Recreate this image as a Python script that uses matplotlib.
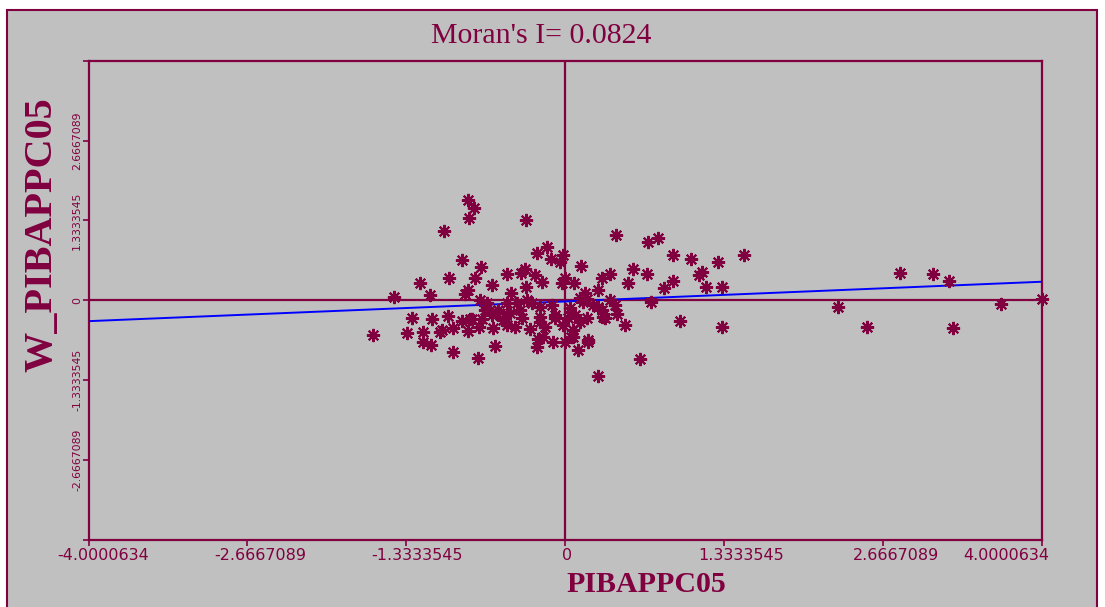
import matplotlib
matplotlib.use("Agg")
import matplotlib.pyplot as plt
import matplotlib.transforms as mtransforms
from matplotlib.patches import Rectangle

# ---- data ----
x_vals = [-0.818, -0.768, -0.810, -0.331, -1.019, -0.868, -0.709, -0.759, -0.977, -1.221,
          -1.137, -1.439, -0.818, -0.843, -0.617, -0.491, -0.373, -0.340, -0.256, -0.331,
          -0.239, -0.155, -0.122, -0.046, -0.021, 0.130, -0.457, -0.323, -0.717, -0.197,
          -0.029, -0.004, 0.071, 0.306, 0.373, 0.273, 0.164, 0.122, 0.147, 0.373,
          0.424, 0.692, 0.776, 0.902, 1.053, 1.279, 1.497, 1.145, 1.120, 1.179,
          1.313, 0.902, 0.826, 0.717, 0.961, 1.313, 0.625, 0.273, 0.566, 0.684,
          0.524, 0.432, 0.499, 0.315, 0.189, 0.105, 0.063, -0.004, 0.231, 0.306,
          0.415, -0.214, -0.113, 0.038, 0.080, 0.021, 0.122, 0.180, 0.331, -0.214,
          -0.172, -0.088, -0.021, 0.063, -0.189, -0.105, 0.046, 0.189, -0.239, 0.180,
          0.273, -1.615, -1.288, -1.330, -1.195, -1.195, -1.128, -1.120, -1.053, -0.986,
          -0.944, -0.868, -0.801, -0.818, -0.944, -0.734, -0.726, -0.784, -0.675, -0.617,
          -0.566, -0.524, -0.608, -0.491, -0.424, -0.382, -0.365, -0.298, -0.231, -0.591,
          -0.659, -0.491, -0.407, -0.659, -0.575, -0.466, -0.281, -1.036, -0.508, -0.088,
          -0.214, -0.701, 2.806, 3.083, 3.217, 2.286, 2.529, 3.251, 3.654, 3.997]
wy_vals = [1.683, 1.550, 1.383, 1.350, 1.150, 0.667, 0.550, 0.367, 0.367, 0.283,
           0.083, 0.050, 0.167, 0.100, 0.250, 0.433, 0.450, 0.517, 0.417, 0.217,
           0.783, 0.883, 0.683, 0.633, 0.750, 0.567, 0.117, 0.000, 0.000, 0.300,
           0.283, 0.367, 0.283, 0.367, 0.433, 0.167, 0.117, 0.033, -0.033, 0.000,
           1.083, 0.967, 1.033, 0.750, 0.683, 0.633, 0.750, 0.467, 0.417, 0.217,
           0.217, 0.317, 0.200, -0.033, -0.350, -0.450, -0.983, -1.267, 0.517, 0.433,
           0.283, -0.233, -0.417, -0.283, -0.700, -0.833, -0.617, -0.700, -0.083, -0.167,
           -0.083, -0.117, -0.083, -0.133, -0.250, -0.300, -0.367, -0.300, -0.300, -0.367,
           -0.450, -0.300, -0.417, -0.500, -0.617, -0.700, -0.617, -0.667, -0.783, 0.017,
           -0.117, -0.583, -0.300, -0.550, -0.533, -0.700, -0.750, -0.317, -0.533, -0.267,
           -0.467, -0.350, -0.317, -0.517, -0.867, -0.967, -0.450, -0.317, -0.167, -0.250,
           -0.167, -0.333, -0.467, -0.417, -0.450, -0.167, -0.300, -0.483, -0.650, -0.767,
           -0.050, -0.050, -0.050, -0.133, -0.217, -0.217, -0.050, -0.500, -0.283, -0.250,
           -0.283, -0.317, 0.450, 0.433, 0.317, -0.117, -0.450, -0.467, -0.067, 0.017]

morans_i = 0.0824
intercept = -0.02
tick_vals = [-4.0000634, -2.6667089, -1.3333545, 0.0, 1.3333545, 2.6667089, 4.0000634]
x_tick_labels = ["-4.0000634", "-2.6667089", "-1.3333545", "0", "1.3333545", "2.6667089", "4.0000634"]
y_tick_labels = ["", "-2.6667089", "-1.3333545", "0", "1.3333545", "2.6667089", ""]
title_text = "Moran's I= 0.0824"
x_label = "PIBAPPC05"
y_label = "W_PIBAPPC05"

# ---- style ----
MAROON = "#800040"
GREY = "#C0C0C0"
W, H = 1105, 607
# horizontal shift (pixels) of each x tick label relative to its tick, as in the reference
x_label_shift_px = [15, 13, 11, 2, 17, 13, -36]

fig = plt.figure(figsize=(W / 100, H / 100), dpi=100, facecolor="white")

# outer grey panel (behind everything)
panel = Rectangle((7 / W, -0.05), (1097 - 7) / W, 1.05 - 10 / H,
                  transform=fig.transFigure, facecolor=GREY, edgecolor=MAROON,
                  linewidth=1.5, zorder=-10)
fig.patches.append(panel)

ax = fig.add_axes([88.5 / W, 1 - 539.5 / H, (1042 - 88.5) / W, (539.5 - 61) / H])
ax.set_zorder(1)
ax.set_facecolor(GREY)
lim = tick_vals[-1]
ax.set_xlim(-lim, lim)
ax.set_ylim(-lim, lim)

for s in ax.spines.values():
    s.set_color(MAROON)
    s.set_linewidth(1.6)

ax.axhline(0, color=MAROON, lw=1.6, zorder=2)
ax.axvline(0, color=MAROON, lw=1.6, zorder=2)

# regression line
ax.plot([-lim, lim], [morans_i * -lim + intercept, morans_i * lim + intercept],
        color="#0000FF", lw=1.4, zorder=3)

# points: 8-spoke asterisk with a filled centre
ax.plot(x_vals, wy_vals, linestyle="none", marker=(8, 2, 0), markersize=9.5,
        markeredgewidth=1.5, color=MAROON, zorder=4, clip_on=False)
ax.plot(x_vals, wy_vals, linestyle="none", marker="o", markersize=4.5,
        color=MAROON, markeredgewidth=0, zorder=5, clip_on=False)

ax.set_xticks(tick_vals)
ax.set_xticklabels([""] * len(tick_vals))
ax.set_yticks(tick_vals)
ax.set_yticklabels(y_tick_labels, rotation=90, va="center")
ax.tick_params(axis="x", direction="out", length=4, width=1.2, colors=MAROON)
ax.tick_params(axis="y", direction="out", length=4, width=1.2, colors=MAROON,
               labelsize=7.8, pad=0.5)
for lab in ax.get_yticklabels():
    lab.set_fontfamily("DejaVu Sans")

# x tick labels placed under their ticks (shifted as in the reference)
xform = mtransforms.blended_transform_factory(ax.transData, ax.transAxes)
for v, txt, dx in zip(tick_vals, x_tick_labels, x_label_shift_px):
    ax.annotate(txt, xy=(v, 0), xycoords=xform,
                xytext=(dx * 0.72, -16.5 * 0.72), textcoords="offset points",
                ha="center", va="center", fontsize=11.5, color=MAROON,
                family="DejaVu Sans", annotation_clip=False)

fig.text(541 / W, 1 - 36 / H, title_text, ha="center", va="center",
         fontsize=21.5, color=MAROON, family="Liberation Serif")
fig.text(646 / W, 1 - 585 / H, x_label, ha="center", va="center",
         fontsize=21.5, color=MAROON, family="Liberation Serif", fontweight="bold")
fig.text(42 / W, 1 - 235 / H, y_label, ha="center", va="center", rotation=90,
         fontsize=29, color=MAROON, family="Liberation Serif", fontweight="bold")

fig.savefig("out.png", dpi=100, facecolor="white")
